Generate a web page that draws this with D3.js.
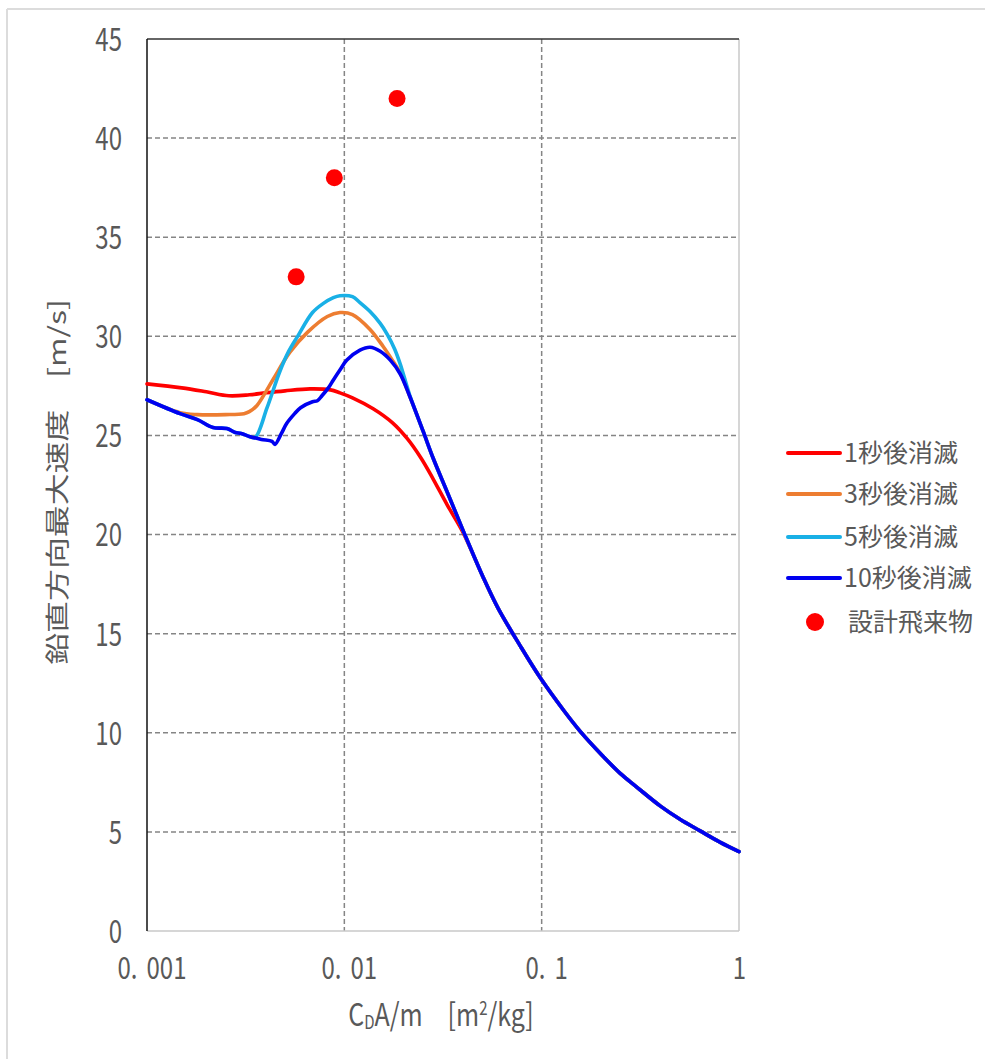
<!DOCTYPE html>
<html><head><meta charset="utf-8">
<script src="https://cdn.jsdelivr.net/npm/d3@7"></script>
<style>
body{margin:0;background:#fff}
svg{display:block}
text{font-family:"Noto Sans CJK JP","Noto Sans",sans-serif;fill:#595959}
</style>
</head><body>
<svg id="c" width="993" height="1059"></svg>
<script>
// ---- data ----
const seriesNames = ["1秒後消滅","3秒後消滅","5秒後消滅","10秒後消滅"];
const seriesColors = ["#ff0000","#ed7d31","#19b0e6","#0000f0"];
const pointName = "設計飛来物";

const xTickValues = [0.001, 0.01, 0.1, 1];
const xTickLabels = ["0.001", "0.01", "0.1", "1"];
const yTickValues = [0,5,10,15,20,25,30,35,40,45];

// shared tail (all curves coincide at large CDA/m)
const xTail = [0.0505,0.06,0.0777,0.098,0.13,0.156,0.2,0.25,0.3,0.4,0.5,0.635,0.8,1];
const vTail = [17.85,16.3,14.4,12.8,11.1,10.1,8.92,7.95,7.3,6.3,5.65,5.05,4.48,4.0];

const x1s = [0.001,0.0015,0.002,0.0026,0.0033,0.004,0.005,0.0067,0.0085,0.0095,0.011,0.014,0.0175,0.0208,0.0245,0.0282,0.0332,0.040];
const v1s = [27.6,27.4,27.2,27.0,27.05,27.15,27.25,27.35,27.3,27.15,26.9,26.35,25.65,24.85,23.85,22.8,21.5,20.1];

const x3s = [0.001,0.00147,0.0018,0.0025,0.0031,0.0033,0.0036,0.004,0.0044,0.0053,0.0065,0.0082,0.0095,0.011,0.0135,0.0157,0.0175,0.0192,0.0215,0.0251,0.0282,0.0332,0.040];
const v3s = [26.8,26.15,26.05,26.05,26.1,26.2,26.5,27.2,27.9,29.2,30.2,31.0,31.2,31.1,30.35,29.5,28.8,28.15,26.95,25.2,23.85,22.15,20.2];

const x5s = [0.001,0.00147,0.0018,0.00216,0.00254,0.0028,0.003,0.0033,0.00353,0.00406,0.0047,0.0052,0.0058,0.0069,0.0078,0.0088,0.0095,0.011,0.012,0.0135,0.0152,0.0165,0.018,0.0192,0.0215,0.0251,0.0282,0.0332,0.040];
const v5s = [26.8,26.1,25.8,25.4,25.35,25.15,25.1,24.95,24.9,26.4,28.2,29.2,30.0,31.2,31.65,31.95,32.05,32.0,31.7,31.25,30.65,30.1,29.35,28.6,27.0,25.2,23.85,22.15,20.2];

const x10s = [0.001,0.00147,0.0018,0.00216,0.00254,0.0028,0.003,0.0033,0.0038,0.0043,0.00445,0.0048,0.0051,0.0056,0.006,0.0069,0.0073,0.0077,0.0083,0.0088,0.0095,0.0103,0.012,0.0135,0.0152,0.0171,0.0192,0.0215,0.0251,0.0282,0.0332,0.040];
const v10s = [26.8,26.1,25.8,25.4,25.35,25.15,25.1,24.95,24.8,24.7,24.55,25.1,25.6,26.1,26.4,26.7,26.75,27.0,27.4,27.8,28.3,28.8,29.3,29.45,29.25,28.8,28.1,26.95,25.2,23.85,22.15,20.2];

const xPoints = [0.0057, 0.0089, 0.0185];
const vPoints = [33, 38, 42];

// ---- chart ----
const svg = d3.select("#c");
const x = d3.scaleLog().domain([0.001, 1]).range([147, 739]);
const y = d3.scaleLinear().domain([0, 45]).range([931, 39]);

// outer frame (top + left)
svg.append("line").attr("x1",7).attr("x2",985).attr("y1",9).attr("y2",9).attr("stroke","#dcdcdc").attr("stroke-width",2);
svg.append("line").attr("x1",7).attr("x2",7).attr("y1",9).attr("y2",1059).attr("stroke","#dcdcdc").attr("stroke-width",2);

// gridlines
const grid = svg.append("g");
grid.selectAll("line.h").data(yTickValues.filter(d => d > 0 && d < 45)).join("line")
  .attr("x1", x(0.001)).attr("x2", x(1)).attr("y1", d => y(d)).attr("y2", d => y(d))
  .attr("stroke", "#858585").attr("stroke-width", 1.5).attr("stroke-dasharray", "5,3");
grid.selectAll("line.v").data([0.01, 0.1]).join("line")
  .attr("x1", d => x(d)).attr("x2", d => x(d)).attr("y1", y(45)).attr("y2", y(0))
  .attr("stroke", "#858585").attr("stroke-width", 1.5).attr("stroke-dasharray", "5,3");

// frame
svg.append("line").attr("x1", x(1)).attr("x2", x(1)).attr("y1", y(45)).attr("y2", y(0)).attr("stroke", "#c8c8c8").attr("stroke-width", 1.5);
svg.append("line").attr("x1", x(0.001)).attr("x2", x(1)).attr("y1", y(0)).attr("y2", y(0)).attr("stroke", "#c8c8c8").attr("stroke-width", 1.5);
svg.append("line").attr("x1", x(0.001)).attr("x2", x(1)).attr("y1", y(45)).attr("y2", y(45)).attr("stroke", "#333").attr("stroke-width", 1.5);
svg.append("line").attr("x1", x(0.001)).attr("x2", x(0.001)).attr("y1", y(45)).attr("y2", y(0)).attr("stroke", "#111").attr("stroke-width", 1.5);

// y axis labels
const yAxis = svg.append("g").attr("transform", "translate(122,0)")
  .call(d3.axisLeft(y).tickValues(yTickValues).tickSize(0).tickPadding(0).tickFormat(d3.format("d")));
yAxis.select(".domain").remove();
yAxis.selectAll("text").attr("x", null).attr("dy", null)
  .attr("transform", "scale(1,1.32)").attr("y", 0).attr("dy", "0.36em")
  .style("font-size", "24px").style("fill", "#595959").attr("text-anchor", "end");

// x axis labels
const xAxis = svg.append("g").attr("transform", "translate(0,968)")
  .call(d3.axisBottom(x).tickValues(xTickValues).tickSize(0).tickFormat((d, i) => xTickLabels[i]));
xAxis.select(".domain").remove();
xAxis.selectAll("text").attr("y", 0).attr("dy", "0.36em")
  .attr("transform", "scale(1,1.3)")
  .style("font-size", "24px").style("fill", "#595959")
  .each(function(d, i) {
    const lbl = xTickLabels[i];
    const t = d3.select(this);
    const k = lbl.indexOf(".");
    if (k >= 0) {
      t.text(null);
      t.append("tspan").text(lbl.slice(0, k + 1));
      t.append("tspan").attr("dx", 9).text(lbl.slice(k + 1));
      t.attr("dx", "4.5");
    }
  });

// axis titles
const xt = svg.append("text").attr("transform", "translate(441,1026) scale(1,1.25)")
  .attr("text-anchor", "middle").style("font-size", "25px");
xt.append("tspan").text("C");
xt.append("tspan").text("D").style("font-size", "15px").attr("dy", 2);
xt.append("tspan").text("A/m\u3000[m").attr("dy", -2);
xt.append("tspan").text("2").style("font-size", "15px").attr("dy", -9);
xt.append("tspan").text("/kg]").attr("dy", 9);

svg.append("text").attr("transform", "translate(66,482) rotate(-90) scale(1.33,1)")
  .attr("text-anchor", "middle").style("font-size", "24px")
  .text("鉛直方向最大速度\u3000[m/s]");

// series
const seriesX = [x1s, x3s, x5s, x10s].map(a => a.concat(xTail));
const seriesV = [v1s, v3s, v5s, v10s].map(a => a.concat(vTail));
const line = d3.line().x(d => x(d[0])).y(d => y(d[1])).curve(d3.curveCatmullRom.alpha(0.5));
const lines = svg.append("g");
seriesNames.forEach((name, i) => {
  const pts = seriesX[i].map((xx, j) => [xx, seriesV[i][j]]);
  lines.append("path").datum(pts).attr("d", line)
    .attr("fill", "none").attr("stroke", seriesColors[i]).attr("stroke-width", 3.6)
    .attr("stroke-linejoin", "round").attr("stroke-linecap", "round");
});

// design points
svg.append("g").selectAll("circle").data(xPoints.map((xx, i) => [xx, vPoints[i]])).join("circle")
  .attr("cx", d => x(d[0])).attr("cy", d => y(d[1])).attr("r", 8.5).attr("fill", "#ff0000");

// legend
const legendY = [453, 494, 537, 578];
const lg = svg.append("g");
seriesNames.forEach((name, i) => {
  lg.append("line").attr("x1", 788).attr("x2", 840).attr("y1", legendY[i]).attr("y2", legendY[i])
    .attr("stroke", seriesColors[i]).attr("stroke-width", 4).attr("stroke-linecap", "round");
  lg.append("text").attr("x", 844).attr("y", legendY[i]).attr("dy", "0.36em")
    .style("font-size", "25px").text(name);
});
lg.append("circle").attr("cx", 815).attr("cy", 622).attr("r", 9).attr("fill", "#ff0000");
lg.append("text").attr("x", 848).attr("y", 622).attr("dy", "0.36em").style("font-size", "25px").text(pointName);
</script>
</body></html>
